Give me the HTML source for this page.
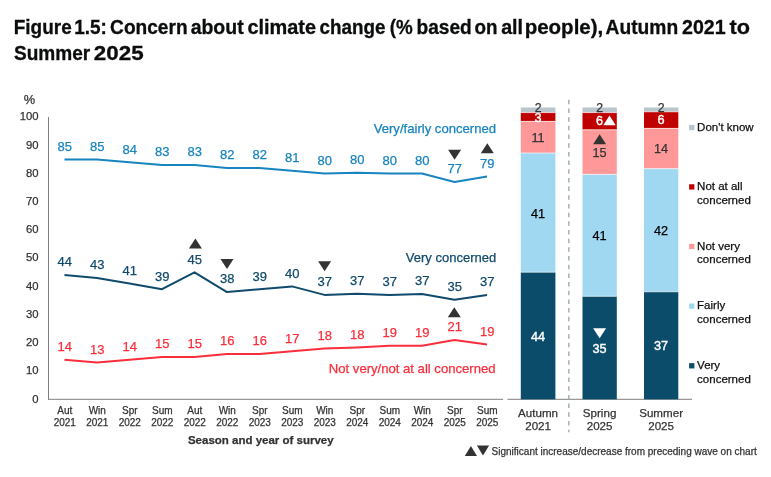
<!DOCTYPE html>
<html lang="en"><head><meta charset="utf-8"><title>Figure 1.5</title>
<style>
html,body{margin:0;padding:0;background:#fff;}
body{width:771px;height:477px;overflow:hidden;position:relative;font-family:"Liberation Sans",sans-serif;}
svg{position:absolute;left:0;top:0;display:block}
svg text{font-family:"Liberation Sans",sans-serif;}
</style></head><body>
<svg width="771" height="477" viewBox="0 0 771 477">
<rect width="771" height="477" fill="#fff"/>
<text y="33.6" font-size="20.2" font-weight="bold" fill="#0b0c0c" stroke="#0b0c0c" stroke-width="0.3"><tspan x="13.79" textLength="57.9" lengthAdjust="spacingAndGlyphs">Figure</tspan> <tspan x="74.25" textLength="32.7" lengthAdjust="spacingAndGlyphs">1.5:</tspan> <tspan x="110.1" textLength="77.5" lengthAdjust="spacingAndGlyphs">Concern</tspan> <tspan x="190.63" textLength="53.0" lengthAdjust="spacingAndGlyphs">about</tspan> <tspan x="247.4" textLength="68.7" lengthAdjust="spacingAndGlyphs">climate</tspan> <tspan x="319.42" textLength="66.0" lengthAdjust="spacingAndGlyphs">change</tspan> <tspan x="389.74" textLength="23.0" lengthAdjust="spacingAndGlyphs">(%</tspan> <tspan x="416.48" textLength="55.3" lengthAdjust="spacingAndGlyphs">based</tspan> <tspan x="474.41" textLength="23.0" lengthAdjust="spacingAndGlyphs">on</tspan> <tspan x="501.15" textLength="21.9" lengthAdjust="spacingAndGlyphs">all</tspan> <tspan x="524.73" textLength="78.5" lengthAdjust="spacingAndGlyphs">people),</tspan> <tspan x="605.54" textLength="72.6" lengthAdjust="spacingAndGlyphs">Autumn</tspan> <tspan x="682.02" textLength="43.6" lengthAdjust="spacingAndGlyphs">2021</tspan> <tspan x="729.6" textLength="20.5" lengthAdjust="spacingAndGlyphs">to</tspan></text>
<text y="59.65" font-size="20.2" font-weight="bold" fill="#0b0c0c" stroke="#0b0c0c" stroke-width="0.3"><tspan x="13.96" textLength="76.3" lengthAdjust="spacingAndGlyphs">Summer</tspan> <tspan x="93.88" textLength="49.7" lengthAdjust="spacingAndGlyphs">2025</tspan></text>
<line x1="48.5" y1="117" x2="48.5" y2="399.8" stroke="#7f7f7f" stroke-width="1"/>
<line x1="48" y1="399.3" x2="503" y2="399.3" stroke="#7f7f7f" stroke-width="1"/>
<line x1="507.5" y1="399.3" x2="692" y2="399.3" stroke="#7f7f7f" stroke-width="1"/>
<text x="29.4" y="104.2" font-size="12.8" fill="#333333" stroke="#333333" stroke-width="0.25" text-anchor="middle">%</text>
<text x="38.6" y="402.9" font-size="11.3" fill="#333333" stroke="#333333" stroke-width="0.25" text-anchor="end">0</text>
<text x="38.6" y="374.3" font-size="11.3" fill="#333333" stroke="#333333" stroke-width="0.25" text-anchor="end">10</text>
<text x="38.6" y="346.1" font-size="11.3" fill="#333333" stroke="#333333" stroke-width="0.25" text-anchor="end">20</text>
<text x="38.6" y="317.8" font-size="11.3" fill="#333333" stroke="#333333" stroke-width="0.25" text-anchor="end">30</text>
<text x="38.6" y="289.6" font-size="11.3" fill="#333333" stroke="#333333" stroke-width="0.25" text-anchor="end">40</text>
<text x="38.6" y="261.4" font-size="11.3" fill="#333333" stroke="#333333" stroke-width="0.25" text-anchor="end">50</text>
<text x="38.6" y="233.2" font-size="11.3" fill="#333333" stroke="#333333" stroke-width="0.25" text-anchor="end">60</text>
<text x="38.6" y="205.0" font-size="11.3" fill="#333333" stroke="#333333" stroke-width="0.25" text-anchor="end">70</text>
<text x="38.6" y="176.7" font-size="11.3" fill="#333333" stroke="#333333" stroke-width="0.25" text-anchor="end">80</text>
<text x="38.6" y="148.5" font-size="11.3" fill="#333333" stroke="#333333" stroke-width="0.25" text-anchor="end">90</text>
<text x="38.6" y="120.3" font-size="11.3" fill="#333333" stroke="#333333" stroke-width="0.25" text-anchor="end">100</text>
<text x="64.8" y="414.4" font-size="10" fill="#333333" stroke="#333333" stroke-width="0.25" text-anchor="middle">Aut</text>
<text x="64.8" y="426.2" font-size="10" fill="#333333" stroke="#333333" stroke-width="0.25" text-anchor="middle">2021</text>
<text x="97.3" y="414.4" font-size="10" fill="#333333" stroke="#333333" stroke-width="0.25" text-anchor="middle">Win</text>
<text x="97.3" y="426.2" font-size="10" fill="#333333" stroke="#333333" stroke-width="0.25" text-anchor="middle">2021</text>
<text x="129.8" y="414.4" font-size="10" fill="#333333" stroke="#333333" stroke-width="0.25" text-anchor="middle">Spr</text>
<text x="129.8" y="426.2" font-size="10" fill="#333333" stroke="#333333" stroke-width="0.25" text-anchor="middle">2022</text>
<text x="162.3" y="414.4" font-size="10" fill="#333333" stroke="#333333" stroke-width="0.25" text-anchor="middle">Sum</text>
<text x="162.3" y="426.2" font-size="10" fill="#333333" stroke="#333333" stroke-width="0.25" text-anchor="middle">2022</text>
<text x="194.8" y="414.4" font-size="10" fill="#333333" stroke="#333333" stroke-width="0.25" text-anchor="middle">Aut</text>
<text x="194.8" y="426.2" font-size="10" fill="#333333" stroke="#333333" stroke-width="0.25" text-anchor="middle">2022</text>
<text x="227.3" y="414.4" font-size="10" fill="#333333" stroke="#333333" stroke-width="0.25" text-anchor="middle">Win</text>
<text x="227.3" y="426.2" font-size="10" fill="#333333" stroke="#333333" stroke-width="0.25" text-anchor="middle">2022</text>
<text x="259.8" y="414.4" font-size="10" fill="#333333" stroke="#333333" stroke-width="0.25" text-anchor="middle">Spr</text>
<text x="259.8" y="426.2" font-size="10" fill="#333333" stroke="#333333" stroke-width="0.25" text-anchor="middle">2023</text>
<text x="292.3" y="414.4" font-size="10" fill="#333333" stroke="#333333" stroke-width="0.25" text-anchor="middle">Sum</text>
<text x="292.3" y="426.2" font-size="10" fill="#333333" stroke="#333333" stroke-width="0.25" text-anchor="middle">2023</text>
<text x="324.8" y="414.4" font-size="10" fill="#333333" stroke="#333333" stroke-width="0.25" text-anchor="middle">Win</text>
<text x="324.8" y="426.2" font-size="10" fill="#333333" stroke="#333333" stroke-width="0.25" text-anchor="middle">2023</text>
<text x="357.3" y="414.4" font-size="10" fill="#333333" stroke="#333333" stroke-width="0.25" text-anchor="middle">Spr</text>
<text x="357.3" y="426.2" font-size="10" fill="#333333" stroke="#333333" stroke-width="0.25" text-anchor="middle">2024</text>
<text x="389.8" y="414.4" font-size="10" fill="#333333" stroke="#333333" stroke-width="0.25" text-anchor="middle">Sum</text>
<text x="389.8" y="426.2" font-size="10" fill="#333333" stroke="#333333" stroke-width="0.25" text-anchor="middle">2024</text>
<text x="422.3" y="414.4" font-size="10" fill="#333333" stroke="#333333" stroke-width="0.25" text-anchor="middle">Win</text>
<text x="422.3" y="426.2" font-size="10" fill="#333333" stroke="#333333" stroke-width="0.25" text-anchor="middle">2024</text>
<text x="454.8" y="414.4" font-size="10" fill="#333333" stroke="#333333" stroke-width="0.25" text-anchor="middle">Spr</text>
<text x="454.8" y="426.2" font-size="10" fill="#333333" stroke="#333333" stroke-width="0.25" text-anchor="middle">2025</text>
<text x="487.3" y="414.4" font-size="10" fill="#333333" stroke="#333333" stroke-width="0.25" text-anchor="middle">Sum</text>
<text x="487.3" y="426.2" font-size="10" fill="#333333" stroke="#333333" stroke-width="0.25" text-anchor="middle">2025</text>
<text x="260.8" y="443.7" font-size="11.5" fill="#333333" stroke="#333333" stroke-width="0.25" text-anchor="middle" font-weight="bold">Season and year of survey</text>
<polyline points="64.5,159.4 97.0,159.4 129.5,162.3 162.0,165.1 194.5,165.1 227.0,167.9 259.5,167.9 292.0,170.7 324.5,173.5 357.0,172.7 389.5,173.5 422.0,173.5 454.5,182.0 487.0,176.4" fill="none" stroke="#1884c0" stroke-width="2" stroke-linejoin="round" stroke-linecap="butt"/>
<polyline points="64.5,275.1 97.0,278.0 129.5,283.6 162.0,289.2 194.5,272.3 227.0,292.1 259.5,289.2 292.0,286.4 324.5,294.9 357.0,293.8 389.5,294.9 422.0,294.0 454.5,299.7 487.0,294.9" fill="none" stroke="#104a6c" stroke-width="2" stroke-linejoin="round" stroke-linecap="butt"/>
<polyline points="64.5,359.8 97.0,362.6 129.5,359.8 162.0,357.0 194.5,357.0 227.0,354.1 259.5,354.1 292.0,351.3 324.5,348.5 357.0,347.4 389.5,345.7 422.0,345.7 454.5,340.0 487.0,344.6" fill="none" stroke="#fb2e3c" stroke-width="2" stroke-linejoin="round" stroke-linecap="butt"/>
<text x="64.8" y="150.7" font-size="13" fill="#1884c0" stroke="#1884c0" stroke-width="0.25" text-anchor="middle">85</text>
<text x="97.3" y="150.7" font-size="13" fill="#1884c0" stroke="#1884c0" stroke-width="0.25" text-anchor="middle">85</text>
<text x="129.8" y="153.6" font-size="13" fill="#1884c0" stroke="#1884c0" stroke-width="0.25" text-anchor="middle">84</text>
<text x="162.3" y="156.4" font-size="13" fill="#1884c0" stroke="#1884c0" stroke-width="0.25" text-anchor="middle">83</text>
<text x="194.8" y="156.4" font-size="13" fill="#1884c0" stroke="#1884c0" stroke-width="0.25" text-anchor="middle">83</text>
<text x="227.3" y="159.2" font-size="13" fill="#1884c0" stroke="#1884c0" stroke-width="0.25" text-anchor="middle">82</text>
<text x="259.8" y="159.2" font-size="13" fill="#1884c0" stroke="#1884c0" stroke-width="0.25" text-anchor="middle">82</text>
<text x="292.3" y="162.0" font-size="13" fill="#1884c0" stroke="#1884c0" stroke-width="0.25" text-anchor="middle">81</text>
<text x="324.8" y="164.8" font-size="13" fill="#1884c0" stroke="#1884c0" stroke-width="0.25" text-anchor="middle">80</text>
<text x="357.3" y="164.0" font-size="13" fill="#1884c0" stroke="#1884c0" stroke-width="0.25" text-anchor="middle">80</text>
<text x="389.8" y="164.8" font-size="13" fill="#1884c0" stroke="#1884c0" stroke-width="0.25" text-anchor="middle">80</text>
<text x="422.3" y="164.8" font-size="13" fill="#1884c0" stroke="#1884c0" stroke-width="0.25" text-anchor="middle">80</text>
<text x="454.8" y="173.3" font-size="13" fill="#1884c0" stroke="#1884c0" stroke-width="0.25" text-anchor="middle">77</text>
<text x="487.3" y="167.7" font-size="13" fill="#1884c0" stroke="#1884c0" stroke-width="0.25" text-anchor="middle">79</text>
<text x="64.8" y="266.4" font-size="13" fill="#104a6c" stroke="#104a6c" stroke-width="0.25" text-anchor="middle">44</text>
<text x="97.3" y="269.3" font-size="13" fill="#104a6c" stroke="#104a6c" stroke-width="0.25" text-anchor="middle">43</text>
<text x="129.8" y="274.9" font-size="13" fill="#104a6c" stroke="#104a6c" stroke-width="0.25" text-anchor="middle">41</text>
<text x="162.3" y="280.5" font-size="13" fill="#104a6c" stroke="#104a6c" stroke-width="0.25" text-anchor="middle">39</text>
<text x="194.8" y="263.6" font-size="13" fill="#104a6c" stroke="#104a6c" stroke-width="0.25" text-anchor="middle">45</text>
<text x="227.3" y="283.4" font-size="13" fill="#104a6c" stroke="#104a6c" stroke-width="0.25" text-anchor="middle">38</text>
<text x="259.8" y="280.5" font-size="13" fill="#104a6c" stroke="#104a6c" stroke-width="0.25" text-anchor="middle">39</text>
<text x="292.3" y="277.7" font-size="13" fill="#104a6c" stroke="#104a6c" stroke-width="0.25" text-anchor="middle">40</text>
<text x="324.8" y="286.2" font-size="13" fill="#104a6c" stroke="#104a6c" stroke-width="0.25" text-anchor="middle">37</text>
<text x="357.3" y="285.1" font-size="13" fill="#104a6c" stroke="#104a6c" stroke-width="0.25" text-anchor="middle">37</text>
<text x="389.8" y="286.2" font-size="13" fill="#104a6c" stroke="#104a6c" stroke-width="0.25" text-anchor="middle">37</text>
<text x="422.3" y="285.3" font-size="13" fill="#104a6c" stroke="#104a6c" stroke-width="0.25" text-anchor="middle">37</text>
<text x="454.8" y="291.0" font-size="13" fill="#104a6c" stroke="#104a6c" stroke-width="0.25" text-anchor="middle">35</text>
<text x="487.3" y="286.2" font-size="13" fill="#104a6c" stroke="#104a6c" stroke-width="0.25" text-anchor="middle">37</text>
<text x="64.8" y="351.1" font-size="13" fill="#fb2e3c" stroke="#fb2e3c" stroke-width="0.25" text-anchor="middle">14</text>
<text x="97.3" y="353.9" font-size="13" fill="#fb2e3c" stroke="#fb2e3c" stroke-width="0.25" text-anchor="middle">13</text>
<text x="129.8" y="351.1" font-size="13" fill="#fb2e3c" stroke="#fb2e3c" stroke-width="0.25" text-anchor="middle">14</text>
<text x="162.3" y="348.3" font-size="13" fill="#fb2e3c" stroke="#fb2e3c" stroke-width="0.25" text-anchor="middle">15</text>
<text x="194.8" y="348.3" font-size="13" fill="#fb2e3c" stroke="#fb2e3c" stroke-width="0.25" text-anchor="middle">15</text>
<text x="227.3" y="345.4" font-size="13" fill="#fb2e3c" stroke="#fb2e3c" stroke-width="0.25" text-anchor="middle">16</text>
<text x="259.8" y="345.4" font-size="13" fill="#fb2e3c" stroke="#fb2e3c" stroke-width="0.25" text-anchor="middle">16</text>
<text x="292.3" y="342.6" font-size="13" fill="#fb2e3c" stroke="#fb2e3c" stroke-width="0.25" text-anchor="middle">17</text>
<text x="324.8" y="339.8" font-size="13" fill="#fb2e3c" stroke="#fb2e3c" stroke-width="0.25" text-anchor="middle">18</text>
<text x="357.3" y="338.7" font-size="13" fill="#fb2e3c" stroke="#fb2e3c" stroke-width="0.25" text-anchor="middle">18</text>
<text x="389.8" y="337.0" font-size="13" fill="#fb2e3c" stroke="#fb2e3c" stroke-width="0.25" text-anchor="middle">19</text>
<text x="422.3" y="337.0" font-size="13" fill="#fb2e3c" stroke="#fb2e3c" stroke-width="0.25" text-anchor="middle">19</text>
<text x="454.8" y="331.3" font-size="13" fill="#fb2e3c" stroke="#fb2e3c" stroke-width="0.25" text-anchor="middle">21</text>
<text x="487.3" y="335.9" font-size="13" fill="#fb2e3c" stroke="#fb2e3c" stroke-width="0.25" text-anchor="middle">19</text>
<polygon points="188.9,248.4 201.9,248.4 195.4,238.4" fill="#333333"/>
<polygon points="220.5,259.0 233.5,259.0 227.0,269.0" fill="#333333"/>
<polygon points="318.1,261.2 331.1,261.2 324.6,271.2" fill="#333333"/>
<polygon points="448.1,149.8 461.1,149.8 454.6,159.8" fill="#333333"/>
<polygon points="480.8,153.2 493.8,153.2 487.3,143.2" fill="#333333"/>
<polygon points="447.8,317.2 460.8,317.2 454.3,307.2" fill="#333333"/>
<text x="496.0" y="133.4" font-size="13.1" fill="#1884c0" stroke="#1884c0" stroke-width="0.25" text-anchor="end">Very/fairly concerned</text>
<text x="496.2" y="261.9" font-size="13" fill="#104a6c" stroke="#104a6c" stroke-width="0.25" text-anchor="end">Very concerned</text>
<text x="495.5" y="372.9" font-size="13.1" fill="#fb2e3c" stroke="#fb2e3c" stroke-width="0.25" text-anchor="end">Not very/not at all concerned</text>
<rect x="520.8" y="107.5" width="34.6" height="5.1" fill="#b9c6ce"/>
<rect x="520.8" y="112.6" width="34.6" height="8.8" fill="#c00000"/>
<rect x="520.8" y="121.4" width="34.6" height="31.6" fill="#ff9999"/>
<rect x="520.8" y="153.0" width="34.6" height="119.2" fill="#a0d8f1"/>
<rect x="520.8" y="272.2" width="34.6" height="127.1" fill="#0b4c6b"/>
<line x1="520.8" x2="555.4" y1="112.6" y2="112.6" stroke="#fff" stroke-width="0.8" stroke-opacity="0.8"/>
<line x1="520.8" x2="555.4" y1="121.4" y2="121.4" stroke="#fff" stroke-width="0.8" stroke-opacity="0.8"/>
<line x1="520.8" x2="555.4" y1="153.0" y2="153.0" stroke="#fff" stroke-width="0.8" stroke-opacity="0.8"/>
<line x1="520.8" x2="555.4" y1="272.2" y2="272.2" stroke="#fff" stroke-width="0.8" stroke-opacity="0.8"/>
<rect x="582.5" y="107.5" width="34.3" height="5.1" fill="#b9c6ce"/>
<rect x="582.5" y="112.6" width="34.3" height="17.2" fill="#c00000"/>
<rect x="582.5" y="129.8" width="34.3" height="44.6" fill="#ff9999"/>
<rect x="582.5" y="174.4" width="34.3" height="121.9" fill="#a0d8f1"/>
<rect x="582.5" y="296.3" width="34.3" height="103.0" fill="#0b4c6b"/>
<line x1="582.5" x2="616.8" y1="112.6" y2="112.6" stroke="#fff" stroke-width="0.8" stroke-opacity="0.8"/>
<line x1="582.5" x2="616.8" y1="129.8" y2="129.8" stroke="#fff" stroke-width="0.8" stroke-opacity="0.8"/>
<line x1="582.5" x2="616.8" y1="174.4" y2="174.4" stroke="#fff" stroke-width="0.8" stroke-opacity="0.8"/>
<line x1="582.5" x2="616.8" y1="296.3" y2="296.3" stroke="#fff" stroke-width="0.8" stroke-opacity="0.8"/>
<rect x="644.0" y="107.5" width="34.3" height="4.3" fill="#b9c6ce"/>
<rect x="644.0" y="111.8" width="34.3" height="16.6" fill="#c00000"/>
<rect x="644.0" y="128.4" width="34.3" height="40.3" fill="#ff9999"/>
<rect x="644.0" y="168.7" width="34.3" height="123.1" fill="#a0d8f1"/>
<rect x="644.0" y="291.8" width="34.3" height="107.5" fill="#0b4c6b"/>
<line x1="644.0" x2="678.3" y1="111.8" y2="111.8" stroke="#fff" stroke-width="0.8" stroke-opacity="0.8"/>
<line x1="644.0" x2="678.3" y1="128.4" y2="128.4" stroke="#fff" stroke-width="0.8" stroke-opacity="0.8"/>
<line x1="644.0" x2="678.3" y1="168.7" y2="168.7" stroke="#fff" stroke-width="0.8" stroke-opacity="0.8"/>
<line x1="644.0" x2="678.3" y1="291.8" y2="291.8" stroke="#fff" stroke-width="0.8" stroke-opacity="0.8"/>
<line x1="568.85" y1="99.8" x2="568.85" y2="432.2" stroke="#9aabb7" stroke-width="1.4" stroke-dasharray="4.5,4.18"/>
<text x="538.1" y="111.6" font-size="12.3" fill="#333333" stroke="#333333" stroke-width="0.25" text-anchor="middle">2</text>
<text x="599.6" y="111.6" font-size="12.3" fill="#333333" stroke="#333333" stroke-width="0.25" text-anchor="middle">2</text>
<text x="661.1" y="111.6" font-size="12.3" fill="#333333" stroke="#333333" stroke-width="0.25" text-anchor="middle">2</text>
<text x="538.1" y="122.3" font-size="12.7" fill="#fff" stroke="#fff" stroke-width="0.4" text-anchor="middle">3</text>
<text x="599.5" y="125.3" font-size="12.7" fill="#fff" stroke="#fff" stroke-width="0.4" text-anchor="middle">6</text>
<text x="661.1" y="124.2" font-size="12.7" fill="#fff" stroke="#fff" stroke-width="0.4" text-anchor="middle">6</text>
<text x="538.1" y="141.7" font-size="12.7" fill="#333333" stroke="#333333" stroke-width="0.25" text-anchor="middle">11</text>
<text x="599.6" y="157.0" font-size="12.7" fill="#333333" stroke="#333333" stroke-width="0.25" text-anchor="middle">15</text>
<text x="661.1" y="152.5" font-size="12.7" fill="#333333" stroke="#333333" stroke-width="0.25" text-anchor="middle">14</text>
<text x="538.1" y="217.8" font-size="12.7" fill="#000" stroke="#000" stroke-width="0.25" text-anchor="middle">41</text>
<text x="599.6" y="240.3" font-size="12.7" fill="#000" stroke="#000" stroke-width="0.25" text-anchor="middle">41</text>
<text x="661.1" y="235.1" font-size="12.7" fill="#000" stroke="#000" stroke-width="0.25" text-anchor="middle">42</text>
<text x="538.1" y="341.0" font-size="12.7" fill="#fff" stroke="#fff" stroke-width="0.4" text-anchor="middle">44</text>
<text x="599.6" y="352.5" font-size="12.7" fill="#fff" stroke="#fff" stroke-width="0.4" text-anchor="middle">35</text>
<text x="661.1" y="350.0" font-size="12.7" fill="#fff" stroke="#fff" stroke-width="0.4" text-anchor="middle">37</text>
<polygon points="603.3,125.2 615.7,125.2 609.5,115.6" fill="#fff"/>
<polygon points="593.1,144.2 606.1,144.2 599.6,134.2" fill="#333333"/>
<polygon points="593.1,328.2 606.1,328.2 599.6,338.2" fill="#fff"/>
<text x="538.1" y="417.3" font-size="11.6" fill="#333333" stroke="#333333" stroke-width="0.25" text-anchor="middle">Autumn</text>
<text x="538.1" y="429.9" font-size="11.6" fill="#333333" stroke="#333333" stroke-width="0.25" text-anchor="middle">2021</text>
<text x="599.6" y="417.3" font-size="11.6" fill="#333333" stroke="#333333" stroke-width="0.25" text-anchor="middle">Spring</text>
<text x="599.6" y="429.9" font-size="11.6" fill="#333333" stroke="#333333" stroke-width="0.25" text-anchor="middle">2025</text>
<text x="661.1" y="417.3" font-size="11.6" fill="#333333" stroke="#333333" stroke-width="0.25" text-anchor="middle">Summer</text>
<text x="661.1" y="429.9" font-size="11.6" fill="#333333" stroke="#333333" stroke-width="0.25" text-anchor="middle">2025</text>
<rect x="689.1" y="124.85" width="5.3" height="5.3" fill="#b9c6ce"/>
<text x="697.1" y="131.4" font-size="11.5" fill="#111" stroke="#111" stroke-width="0.25" text-anchor="start">Don't know</text>
<rect x="689.1" y="184.25" width="5.3" height="5.3" fill="#c00000"/>
<text x="697.1" y="190.0" font-size="11.5" fill="#111" stroke="#111" stroke-width="0.25" text-anchor="start">Not at all</text>
<text x="697.1" y="203.5" font-size="11.5" fill="#111" stroke="#111" stroke-width="0.25" text-anchor="start">concerned</text>
<rect x="689.1" y="243.85" width="5.3" height="5.3" fill="#ff9999"/>
<text x="697.1" y="249.6" font-size="11.5" fill="#111" stroke="#111" stroke-width="0.25" text-anchor="start">Not very</text>
<text x="697.1" y="263.1" font-size="11.5" fill="#111" stroke="#111" stroke-width="0.25" text-anchor="start">concerned</text>
<rect x="689.1" y="303.45" width="5.3" height="5.3" fill="#a0d8f1"/>
<text x="697.1" y="309.3" font-size="11.5" fill="#111" stroke="#111" stroke-width="0.25" text-anchor="start">Fairly</text>
<text x="697.1" y="322.8" font-size="11.5" fill="#111" stroke="#111" stroke-width="0.25" text-anchor="start">concerned</text>
<rect x="689.1" y="363.15" width="5.3" height="5.3" fill="#0b4c6b"/>
<text x="697.1" y="369.3" font-size="11.5" fill="#111" stroke="#111" stroke-width="0.25" text-anchor="start">Very</text>
<text x="697.1" y="382.8" font-size="11.5" fill="#111" stroke="#111" stroke-width="0.25" text-anchor="start">concerned</text>
<polygon points="464.8,456.1 477.0,456.1 470.9,446.1" fill="#333333"/>
<polygon points="476.9,445.4 489.1,445.4 483.0,455.4" fill="#333333"/>
<text x="491.6" y="454.6" font-size="10" fill="#333333" stroke="#333333" stroke-width="0.25" text-anchor="start">Significant increase/decrease from preceding wave on chart</text>
</svg>
</body></html>
